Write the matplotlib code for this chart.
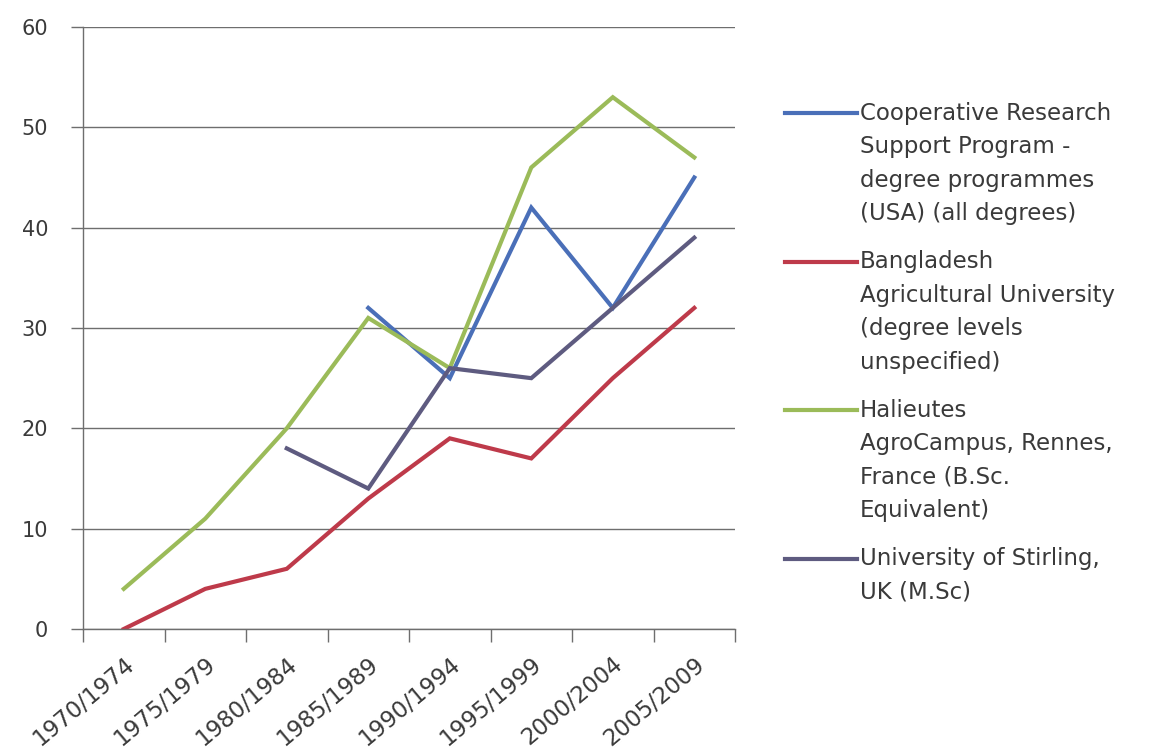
import numpy as np
import matplotlib
matplotlib.use("Agg")
import matplotlib.pyplot as plt
import matplotlib.transforms as mtransforms
from matplotlib.lines import Line2D

plt.rcParams["font.family"] = ["DejaVu Sans"]

periods = ["1970/1974", "1975/1979", "1980/1984", "1985/1989",
           "1990/1994", "1995/1999", "2000/2004", "2005/2009"]

crsp = [np.nan, np.nan, np.nan, 32, 25, 42, 32, 45]
bangladesh = [0, 4, 6, 13, 19, 17, 25, 32]
halieutes = [4, 11, 20, 31, 26, 46, 53, 47]
stirling = [np.nan, np.nan, 18, 14, 26, 25, 32, 39]

labels = [
    "Cooperative Research\nSupport Program -\ndegree programmes\n(USA) (all degrees)",
    "Bangladesh\nAgricultural University\n(degree levels\nunspecified)",
    "Halieutes\nAgroCampus, Rennes,\nFrance (B.Sc.\nEquivalent)",
    "University of Stirling,\nUK (M.Sc)",
]
colors = ["#4a6fb8", "#be3a4a", "#9bbb59", "#5e5b80"]
series = [crsp, bangladesh, halieutes, stirling]

TEXT = "#3a3a3a"
AXIS = "#6e6e6e"

fig = plt.figure(figsize=(11.66, 7.56), dpi=100)
ax = fig.add_axes([0.0712, 0.168, 0.5592, 0.7963])

x = np.arange(len(periods))
for vals, c in zip(series, colors):
    ax.plot(x, vals, color=c, lw=3, solid_joinstyle="miter")

ax.set_xlim(-0.5, len(periods) - 0.5)
ax.set_ylim(0, 60)
ax.set_yticks(range(0, 61, 10))
ax.yaxis.grid(True, color=AXIS, lw=1)
ax.set_axisbelow(True)

ax.set_xticks(x)
ax.set_xticklabels(periods, rotation=40, ha="right", va="top", rotation_mode="anchor")
shift = mtransforms.ScaledTranslation(3 / 100, 0, fig.dpi_scale_trans)
for lbl in ax.get_xticklabels():
    lbl.set_transform(lbl.get_transform() + shift)
ax.set_xticks(np.arange(-0.5, len(periods)), minor=True)
ax.tick_params(axis="x", which="major", length=0, pad=17, labelsize=16.5, labelcolor=TEXT)
ax.tick_params(axis="x", which="minor", length=9, color=AXIS, width=1)
ax.tick_params(axis="y", length=9, color=AXIS, width=1, pad=16, labelsize=15, labelcolor=TEXT)

for s in ["top", "right"]:
    ax.spines[s].set_visible(False)
for s in ["left", "bottom"]:
    ax.spines[s].set_color(AXIS)
    ax.spines[s].set_linewidth(1)

# legend drawn Excel-style: handle level with the first text line
W, H = 1166, 756
y0 = 113
for i, (lab, c) in enumerate(zip(labels, colors)):
    yy = y0 + i * 148.5
    fig.add_artist(Line2D([785 / W, 857 / W], [1 - yy / H, 1 - yy / H], color=c, lw=3,
                          transform=fig.transFigure))
    fig.text(860 / W, 1 - (yy - 11) / H, lab, fontsize=16.5, color=TEXT, va="top",
             linespacing=1.58, transform=fig.transFigure)

fig.savefig("out.png", dpi=100)
